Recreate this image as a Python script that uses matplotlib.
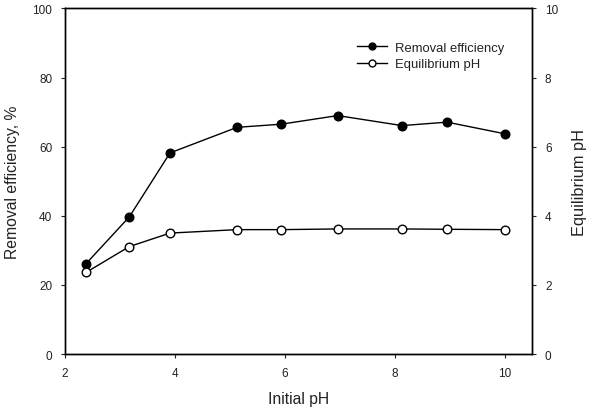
import matplotlib
matplotlib.use("Agg")
import matplotlib.pyplot as plt

plt.rcParams['font.family'] = ['Liberation Sans', 'DejaVu Sans']

initial_ph = [2.38, 3.17, 3.91, 5.13, 5.93, 6.96, 8.13, 8.95, 10.01]
removal_eff = [26.1, 39.7, 58.2, 65.6, 66.5, 69.0, 66.1, 67.1, 63.7]
equil_ph = [2.36, 3.11, 3.50, 3.60, 3.60, 3.62, 3.62, 3.61, 3.60]

fig = plt.figure(figsize=(5.91, 4.10), dpi=100)
ax = fig.add_axes([0.110, 0.134, 0.7907, 0.843])
ax2 = ax.twinx()

l1, = ax.plot(initial_ph, removal_eff, color='black', lw=1.0, marker='o',
              markersize=6.2, markerfacecolor='black', markeredgecolor='black',
              label='Removal efficiency')
l2, = ax2.plot(initial_ph, equil_ph, color='black', lw=1.0, marker='o',
               markersize=6.2, markerfacecolor='white', markeredgecolor='black',
               markeredgewidth=1.0, label='Equilibrium pH')

ax.set_xlim(2, 10.5)
ax.set_ylim(0, 100)
ax2.set_ylim(0, 10)
ax.set_xticks([2, 4, 6, 8, 10])
ax.set_yticks([0, 20, 40, 60, 80, 100])
ax2.set_yticks([0, 2, 4, 6, 8, 10])

for a in (ax, ax2):
    a.tick_params(direction='out', length=2.6, width=0.8, labelsize=8.5,
                  pad=6.5, colors='#222222')
    for s in a.spines.values():
        s.set_linewidth(1.0)

ax.set_xlabel('Initial pH', fontsize=11.3, color='#222222')
ax.set_ylabel('Removal efficiency, %', fontsize=11.3, color='#222222')
ax2.set_ylabel('Equilibrium pH', fontsize=11.8, color='#222222')
ax.xaxis.set_label_coords(0.5, -0.108)
ax.yaxis.set_label_coords(-0.0963, 0.5)
ax2.yaxis.set_label_coords(1.085, 0.5)

leg = ax.legend(handles=[l1, l2], loc='upper left', bbox_to_anchor=(0.625, 0.904),
                frameon=False, fontsize=9.4, handlelength=2.3, handletextpad=0.6,
                labelspacing=0.33, borderpad=0, borderaxespad=0, markerscale=0.8)
for t in leg.get_texts():
    t.set_color('#222222')

fig.savefig('out.png', dpi=100)
